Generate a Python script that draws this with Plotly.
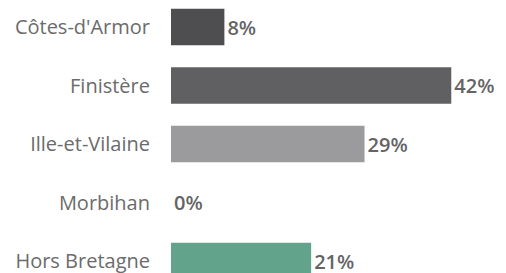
import plotly.graph_objects as go

categories = ["Côtes-d'Armor", "Finistère", "Ille-et-Vilaine", "Morbihan", "Hors Bretagne"]
values = [8, 42, 29, 0, 21]
labels = ["8%", "42%", "29%", "0%", "21%"]
colors = ["#4e4e50", "#606062", "#9b9b9d", "#9b9b9d", "#61a38b"]

FONT = "Open Sans"

fig = go.Figure(go.Bar(
    x=values, y=categories, orientation="h",
    marker=dict(color=colors, line=dict(width=0)),
    width=0.62,
    text=labels, textposition="outside",
    textfont=dict(family=FONT, size=20, color="#646464", weight=600),
    cliponaxis=False,
))

fig.update_layout(
    width=498, height=265,
    margin=dict(l=163, r=0, t=0, b=0, autoexpand=False),
    paper_bgcolor="white", plot_bgcolor="white",
    showlegend=False,
    xaxis=dict(range=[0, 50.2], visible=False, fixedrange=True, automargin=False),
    yaxis=dict(
        type="category", range=[4.205, -0.3248], automargin=False,
        showgrid=False, zeroline=False, showline=False,
        ticks="", ticklabelstandoff=20,
        tickfont=dict(family=FONT, size=20, color="#6b6b6b"),
    ),
)

fig.write_html("out.html")
